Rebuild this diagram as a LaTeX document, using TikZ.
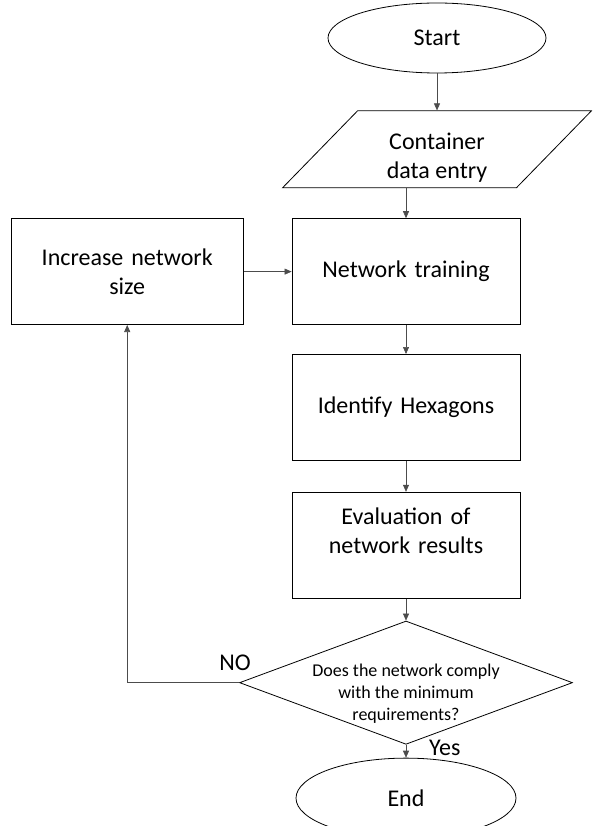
\documentclass[tikz,border=0pt]{standalone}
\usepackage{fontspec}
\setmainfont{Carlito}
\usepackage{tikz}
\usetikzlibrary{shapes, arrows, arrows.meta, positioning}
\tikzstyle{block} = [rectangle, draw, line width=0.8pt, text width=210pt, align=center,
    minimum width=228pt, minimum height=106pt, font=\fontsize{24}{29}\selectfont]
\tikzstyle{terminal} = [ellipse, draw, line width=0.8pt, inner sep=0pt,
    minimum width=218pt, minimum height=70pt, font=\fontsize{24}{29}\selectfont]
\tikzstyle{io} = [trapezium, trapezium left angle=52, trapezium right angle=128, draw, line width=0.8pt,
    trapezium stretches=true, minimum width=309pt, minimum height=77pt,
    font=\fontsize{24}{29}\selectfont]
\tikzstyle{decision} = [diamond, draw, line width=0.8pt, aspect=2.7, inner sep=-4.4pt,
    font=\fontsize{18}{22}\selectfont]
\tikzstyle{lbl} = [inner sep=0pt, font=\fontsize{24}{29}\selectfont]
\tikzstyle{line} = [draw, black!70, line width=0.6pt, -{Triangle[length=7pt,width=6pt]}]

\begin{document}
\begin{tikzpicture}[x=1pt, y=-1pt, node distance = 30pt]
      \path[use as bounding box, clip] (0,0) rectangle (592,826);
      % Main column
      \node [terminal] (start) at (437,38) {\raisebox{-4pt}{Start}};
      \node [io, below=37pt of start] (data) {\raisebox{-9pt}[\height][\depth]{\begin{tabular}{@{}c@{}}Container\\data entry\end{tabular}}};
      \node [block, below=30pt of data, xshift=-31pt] (train) {Network training};
      \node [block, below=29pt of train] (hexagons) {Identify Hexagons};
      \node [block, below=31pt of hexagons] (evaluation) {Evaluation of\\network results\\ \mbox{}};
      \node [decision, below=22pt of evaluation] (decide) {\raisebox{-11pt}[\height][\depth]{\begin{tabular}{@{}c@{}}Does the network comply\\with the minimum\\requirements?\end{tabular}}};
      \node [terminal, below=13pt of decide, minimum width=220pt, minimum height=80pt] (stop) {End};
      % Loop back
      \node [block, left=48pt of train, minimum width=232pt] (grow) {Increase network\\size};
      \node [lbl, anchor=south] (no) at ([xshift=-4pt, yshift=12pt]decide.west) {NO};
      \node [lbl, anchor=west] (yes) at ([xshift=23pt, yshift=-3pt]decide.south) {Yes};
      % Draw edges
      \path [line] (start.south) -- (start.south |- data.north);
      \path [line] (train.north |- data.south) -- (train.north);
      \path [line] (grow.east) -- (train.west);
      \path [line] (train) -- (hexagons);
      \path [line] (hexagons) -- (evaluation);
      \path [line] (evaluation) -- (decide);
      \path [line] (decide) -- (stop);
      \path [line] (decide.west) -| (grow.south);
    \end{tikzpicture}
\end{document}
